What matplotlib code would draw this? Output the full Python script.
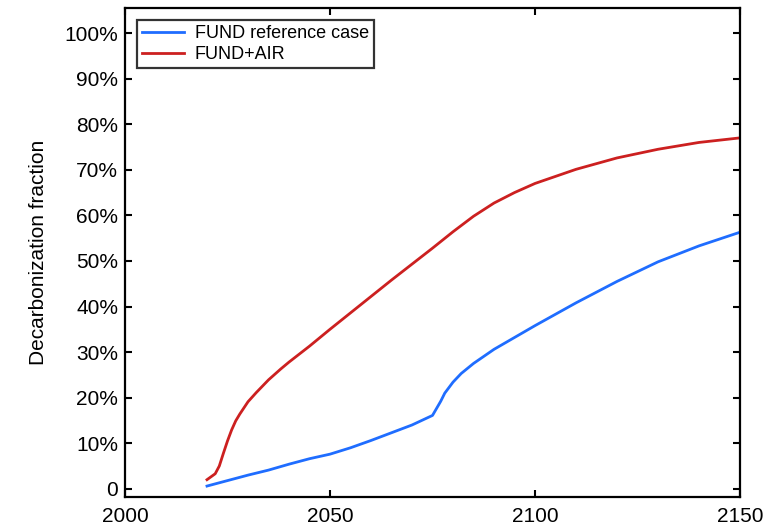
import matplotlib
matplotlib.use("Agg")
import matplotlib.pyplot as plt
from matplotlib.ticker import FixedLocator, FuncFormatter

plt.rcParams['font.family'] = ['Liberation Sans', 'DejaVu Sans']

# FUND reference case
years_ref = [2020, 2025, 2030, 2035, 2040, 2045, 2050, 2055, 2060, 2065, 2070,
             2075, 2077, 2078, 2080, 2082, 2085, 2090, 2095, 2100, 2110, 2120,
             2130, 2140, 2150]
frac_ref = [0.6, 1.8, 3.0, 4.1, 5.4, 6.6, 7.6, 9.0, 10.6, 12.3, 14.0,
            16.1, 19.2, 21.0, 23.4, 25.3, 27.5, 30.6, 33.2, 35.8, 40.8, 45.5,
            49.8, 53.3, 56.3]

# FUND+AIR
years_air = [2020, 2022, 2023, 2024, 2025, 2026, 2027, 2028, 2030, 2032, 2035,
             2038, 2040, 2045, 2050, 2055, 2060, 2065, 2070, 2075, 2080, 2085,
             2090, 2095, 2100, 2110, 2120, 2130, 2140, 2150]
frac_air = [2.0, 3.3, 5.0, 7.8, 10.5, 12.9, 14.9, 16.4, 19.1, 21.1, 23.9,
            26.3, 27.8, 31.3, 35.0, 38.6, 42.2, 45.8, 49.3, 52.8, 56.4, 59.8,
            62.7, 65.0, 67.0, 70.1, 72.6, 74.5, 76.0, 77.0]

x_ticks = [2000, 2050, 2100, 2150]
y_ticks = [0, 10, 20, 30, 40, 50, 60, 70, 80, 90, 100]

fig = plt.figure(figsize=(7.71, 5.26), dpi=100)
ax = fig.add_axes([125 / 771, 29 / 526, 615 / 771, 489 / 526])

ax.plot(years_ref, frac_ref, color='#1f6dff', lw=2.0, label='FUND reference case')
ax.plot(years_air, frac_air, color='#cc2020', lw=2.0, label='FUND+AIR')

ax.set_xlim(2000, 2150)
ax.set_ylim(-1.8, 105.5)
ax.xaxis.set_major_locator(FixedLocator(x_ticks))
ax.yaxis.set_major_locator(FixedLocator(y_ticks))
ax.yaxis.set_major_formatter(FuncFormatter(lambda v, p: '0' if v == 0 else f'{int(v)}%'))

ax.tick_params(direction='in', length=5, width=1.5, labelsize=15, pad=5,
               top=True, right=True, colors='black')
ax.tick_params(axis='x', pad=7)
for s in ax.spines.values():
    s.set_linewidth(1.6)

ax.set_ylabel('Decarbonization fraction', fontsize=15, labelpad=12)

leg = ax.legend(loc='upper left', bbox_to_anchor=(137 / 771, 1 - 20 / 526),
                bbox_transform=fig.transFigure, fontsize=13, frameon=True,
                fancybox=False, edgecolor='black', handlelength=2.3,
                handletextpad=0.6, labelspacing=0.2, borderpad=0.3,
                borderaxespad=0)
leg.get_frame().set_linewidth(1.6)

fig.savefig('out.png', dpi=100)
